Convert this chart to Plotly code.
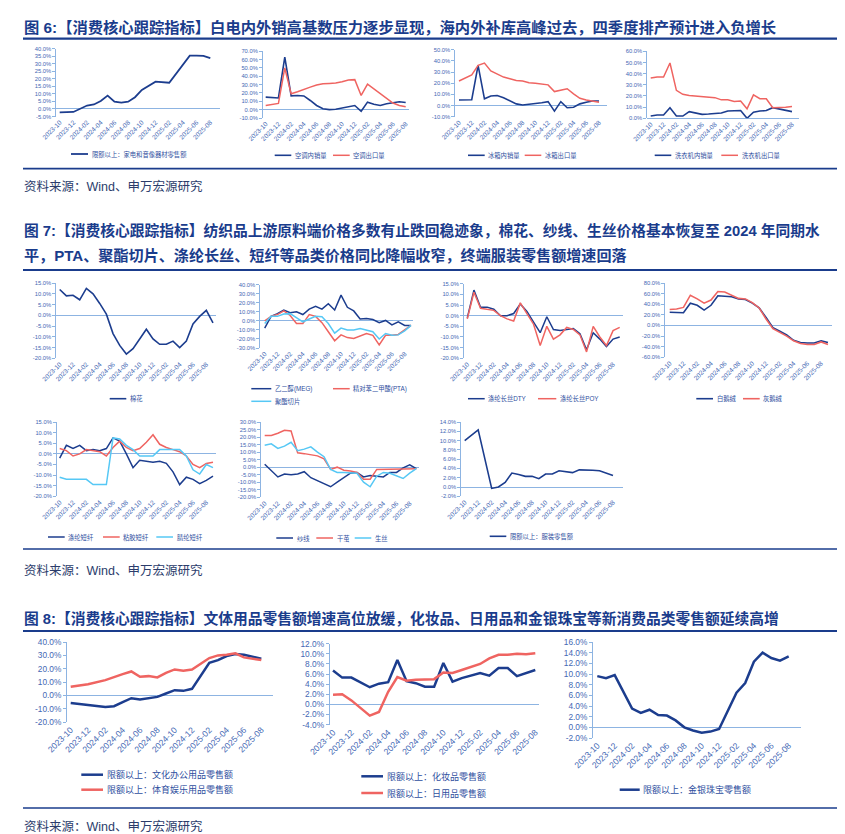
import plotly.graph_objects as go

W, H = 845, 834


def px(x):
    return x / W


def py(y):
    return 1 - y / H


# ---------------- categories ----------------
months23 = ["2023-10", "2023-11", "2023-12", "2024-01", "2024-02", "2024-03", "2024-04",
            "2024-05", "2024-06", "2024-07", "2024-08", "2024-09", "2024-10", "2024-11",
            "2024-12", "2025-01", "2025-02", "2025-03", "2025-04", "2025-05", "2025-06",
            "2025-07", "2025-08"]
months24 = months23 + ["2025-09"]

# ---------------- Fig 6 data (%) ----------------
appliance_retail = [-2.3, -2.1, -2.0, None, 2.3, 3.0, 5.3, 8.9, 4.8, 4.2, 4.8, 7.8, 12.6, 15.2,
                    18.1, None, 17.4, 23.5, 29.5, 35.4, 35.4, 35.2, 33.7]
ac_domestic = [15, 14.5, 14, 63, 16.5, 17, 16.5, 11, 5, 1, 0, 0.5, 2, 4, 5, -2, 9, 6.5, 5, 7,
               8.5, 9.5, 8.5]
ac_export = [5, 6, 7.5, 50, 19, 21.5, 24.5, 27, 29.5, 31, 31.5, 32, 33.5, 35.5, 36, 17, 30.5,
             25, 19, 13, 8, 5, 3.5]
fridge_domestic = [5, 5, 5.2, 36, 6, 8.5, 9, 7, 4, 1.5, 0.5, 1, 2, 2.5, 3.5, -5, 3.5, -2, -1.5,
                   1.5, 3, 4, 4]
fridge_export = [22, 25, 27.5, 36, 38, 31, 28.5, 25.5, 24, 22.5, 22, 20.5, 20, 19, 18.5, 12.5,
                 14, 15, 10.5, 6.5, 5, 4, 3]
washer_domestic = [2, 3, 3, 9.5, 2, 2, 6, 5, 3.5, 3.8, 4.2, 4.7, 6.5, 6.7, 7.0, 0, 5.5, 6.5, 7,
                   9.5, 8.5, 7.5, 6]
washer_export = [36, 37, 37, 49.5, 25, 21.5, 20.5, 20, 19.5, 18.5, 18.5, 16.5, 16.5, 15, 15.5,
                 8.5, 21, 17.5, 17.5, 9.5, 9.5, 10, 10.5]

# ---------------- Fig 7 data (%) ----------------
cotton = [12, 9, 9.3, 7.2, 12.5, 10, 5.5, 0.5, -8.5, -14, -18, -15.5, -11, -6.5, -11, -13.5,
          -13.5, -12, -15, -12, -4, -0.5, 2.3, -3.5]
meg = [-8, 5, 8, 12, 9, 10, 7, 13, 16, 13, 19, 12, 28.5, 15, 11, 2, 2.5, 1.5, -2, 0.5, -4.5, -1,
       -5, -5]
pta = [0, 5, 7, 11, 6, -3, -3, 7, 5, -2, -12, -22, -15.5, -18.5, -19.5, -17, -14, -16, -26.5,
       -16, -16, -15, -10, -5]
polyester_chip = [-3, 5, 5, 7.5, 8, 3, -1, 2, 5, 4.5, -3, -13.5, -8, -10, -10, -8.5, -10, -12,
                  -20, -14, -16, -15.5, -11, -5]
dty = [-1, 12, 4, 4, 3, 0, 0, 1, 5.5, 2, -3, -8, -0.5, -6.5, -7, -6.5, -6, -8.5, -16, -8, -11,
       -14.5, -11, -10]
poy = [-1.5, 11, 3.5, 3, 2.5, 0, -1.5, -2.5, 6, 1, -4, -14, -5, -11, -9, -5.5, -6.5, -9, -17, -5,
       -10, -14, -7, -5.5]
white_down = [25, 25, 24, 42, 38, 29, 38, 56, 55, 54, 50, 49, 42, 33, 15, -4, -11, -18, -28, -32,
              -33, -33, -29, -32]
grey_down = [30, 31, 34, 57, 50, 42, 48, 64, 63, 57, 51, 50, 43, 33, 12, -6, -13, -20, -29, -34,
             -36, -36, -31, -36]
polyester_staple = [-2, 4, 2.5, 4, 1.5, 2, 1.5, 2.5, 7.5, 6, 0, -6.5, -3, -3.5, -4, -3.5, -4.5,
                    -8.5, -14.5, -11, -12, -14, -12.5, -10.5]
viscose_staple = [2.5, 1.5, -1, 0, 2, 1.5, 1, -1, 3, 6, 3, 1.5, 2.5, 5.5, 9, 4.5, 3, 2, 1, -1,
                  -5, -6.5, -4.5, -4]
acrylic_staple = [-11, -12, -12, -12, -12, -14.5, -14.5, -14.5, 7.5, 7, 4, 2, -1, -1, -1, 2, 2,
                  2, 2, -1, -7.5, -9.5, -5, -6.5]
yarn = [2, -2, -6.5, -4.5, -5, -4.5, -3, -7, -9, -10.5, -13, -10, -7, -4, -3.5, -6.5, -5.5, -6,
        -6.5, -3.5, -3.5, -0.5, 1.5, -1]
dry_cocoon = [21, 21, 22.5, 24.5, 24, 9.5, 9, 8.5, 7.5, 5.5, -1.5, 0, -2, -2.5, -3.5, -8, -8,
              -1.5, -1.5, -1.5, -1, -1, -1, -1]
raw_silk = [14.5, 15.5, 12.5, 14, 16.5, 11, 12, 13.5, 10, 7, -1.5, -3.5, -3.5, -3.5, -4, -10, -13,
            -6, -3.5, -4, -5.5, -7.5, -4, -1]
apparel_retail = [10, 11.2, 12.3, None, -0.3, 0, 1, 3, 2.7, 2.3, 2.3, 1.8, 2.8, 2.8, 3.5, None,
                  3.1, 3.7, 3.7, 3.6, 3.5, 3.0, 2.5]

# ---------------- Fig 8 data (%) ----------------
office_retail = [-5.5, -6.5, -7, None, -8.5, -8, -5, -2, -3, -2, -1, 1.5, 4, 3.5, 5, None, 24.5,
                 26.5, 29.5, 31, 30.5, 29, 27.5]
sports_retail = [6.5, 7.5, 8.5, None, 11.5, 14, 16, 18, 14, 14.5, 13.5, 17, 19.5, 18.5, 19.5, None,
                 28, 30, 30.5, 31.5, 28.5, 27.5, 26.5]
cosmetics_retail = [6.7, 5.3, 5.3, None, 3.4, 4.1, 4.4, 8.8, 4.6, 4.2, 3.5, 3.5, 8.2, 4.5, 5.2,
                    None, 6.2, 5.7, 7.2, 7.2, 5.6, 6.2, 6.8]
daily_retail = [1.9, 2.0, 0.8, None, -2.2, -1.5, 2.5, 5.4, 4.7, 4.9, 5.0, 5.0, 6.3, 6.2, 6.8, None,
                8.0, 9.1, 9.8, 9.8, 10.0, 9.9, 10.1]
jewelry_retail = [9.6, 9.2, 9.8, None, 3.5, 2.7, 3.3, 2.3, 2.2, 1.3, 0.0, -0.6, -1.0, -0.8, -0.3,
                  None, 6.5, 8.3, 12.3, 14.0, 13.0, 12.5, 13.3]

# ---------------- text ----------------
title6 = "图 6:【消费核心跟踪指标】白电内外销高基数压力逐步显现，海内外补库高峰过去，四季度排产预计进入负增长"
title7a = "图 7:【消费核心跟踪指标】纺织品上游原料端价格多数有止跌回稳迹象，棉花、纱线、生丝价格基本恢复至 2024 年同期水"
title7b = "平，PTA、聚酯切片、涤纶长丝、短纤等品类价格同比降幅收窄，终端服装零售额增速回落"
title8 = "图 8:【消费核心跟踪指标】文体用品零售额增速高位放缓，化妆品、日用品和金银珠宝等新消费品类零售额延续高增"
source = "资料来源：Wind、申万宏源研究"

# ---------------- styles ----------------
NAVY = "#1C3D8E"
RED = "#EF6461"
CYAN = "#56C8F5"
AXIS = "#8DB4E2"
TICK = "#4468B4"
LEG = "#2E4E9E"
TITLE = "#1A3C8C"
SRC = "#2B3C6B"
FONT = "Liberation Sans, Noto Sans CJK SC, sans-serif"

S6 = dict(yfs=5.8, xfs=6.5, lfs=6.3)
S7 = dict(yfs=5.8, xfs=6.5, lfs=6.3)
S8 = dict(yfs=8.3, xfs=8.6, lfs=9)

panels = [
    dict(box=(48.3, 212, 40.7, 108.5), first=51.7, last=202.3, cats=months23, yr=(-5, 40), dt=5,
         series=[("限额以上：家电和音像器材零售额", appliance_retail, NAVY, 1.8, (63, 80, 146))], **S6),
    dict(box=(255, 401, 43.3, 110), first=257.7, last=397.7, cats=months23, yr=(-10, 70), dt=10,
         series=[("空调内销量", ac_domestic, NAVY, 1.6, (266.7, 283.3, 147.3)),
                 ("空调出口量", ac_export, RED, 1.5, (325, 341.7, 147.3))], **S6),
    dict(box=(447.3, 599, 41.7, 108.7), first=451, last=591, cats=months23, yr=(-10, 50), dt=10,
         series=[("冰箱内销量", fridge_domestic, NAVY, 1.6, (460, 476.7, 147.3)),
                 ("冰箱出口量", fridge_export, RED, 1.5, (516.7, 533.3, 147.3))], **S6),
    dict(box=(639.3, 791, 43.3, 110.3), first=642.7, last=784, cats=months23, yr=(0, 60), dt=10,
         series=[("洗衣机内销量", washer_domestic, NAVY, 1.6, (646.7, 663.3, 147.3)),
                 ("洗衣机出口量", washer_export, RED, 1.5, (713.3, 730, 147.3))], **S6),
    dict(box=(48.3, 208.3, 275, 350.3), first=51.7, last=205, cats=months24, yr=(-20, 15), dt=5,
         series=[("棉花", cotton, NAVY, 1.6, (101.7, 118.3, 390.7))], **S7),
    dict(box=(252.3, 405, 276.7, 340), first=256.7, last=403, cats=months24, yr=(-30, 40), dt=10,
         series=[("乙二醇(MEG)", meg, NAVY, 1.5, (243.3, 263.3, 380.7)),
                 ("精对苯二甲酸(PTA)", pta, RED, 1.5, (325, 341.7, 380.7)),
                 ("聚酯切片", polyester_chip, CYAN, 1.5, (243.3, 263.3, 393.3))], **S7),
    dict(box=(456, 615, 275.7, 350.3), first=459.3, last=611.7, cats=months24, yr=(-20, 15), dt=5,
         series=[("涤纶长丝DTY", dty, NAVY, 1.5, (460, 476.7, 390.7)),
                 ("涤纶长丝POY", poy, RED, 1.5, (530, 548.3, 390.7))], **S7),
    dict(box=(657.3, 824, 275, 349.3), first=661.7, last=820, cats=months24, yr=(-60, 80), dt=20,
         series=[("白鹅绒", white_down, NAVY, 1.6, (688.3, 705, 390.7)),
                 ("灰鹅绒", grey_down, RED, 1.6, (735, 751.7, 390.7))], **S7),
    dict(box=(49, 208.3, 414, 488.3), first=51.7, last=205, cats=months24, yr=(-20, 15), dt=5,
         series=[("涤纶短纤", polyester_staple, NAVY, 1.5, (40, 56.7, 529)),
                 ("粘胶短纤", viscose_staple, RED, 1.5, (95, 111.7, 529)),
                 ("腈纶短纤", acrylic_staple, CYAN, 1.5, (148.3, 165, 529))], **S7),
    dict(box=(253.3, 410.7, 414, 489.3), first=256.7, last=408.3, cats=months24, yr=(-20, 30), dt=5,
         series=[("纱线", yarn, NAVY, 1.5, (268.3, 285, 530)),
                 ("干茧", dry_cocoon, RED, 1.5, (308.3, 325, 530)),
                 ("生丝", raw_silk, CYAN, 1.5, (346.7, 363.3, 530))], **S7),
    dict(box=(453.3, 615, 414, 488.3), first=456.7, last=605, cats=months23, yr=(-2, 14), dt=2,
         series=[("限额以上：服装零售额", apparel_retail, NAVY, 1.6, (481.7, 498.3, 528.3))], **S7),
    dict(box=(59, 265, 634, 714.3), first=62.7, last=253.3, cats=months23, yr=(-20, 40), dt=10,
         series=[("限额以上：文化办公用品零售额", office_retail, NAVY, 2.5, (73.3, 95, 766.7)),
                 ("限额以上：体育娱乐用品零售额", sports_retail, RED, 2.5, (73.3, 95, 781.7))], **S8),
    dict(box=(321.7, 530.7, 635.7, 716.7), first=325, last=527.3, cats=months23, yr=(-4, 12), dt=2,
         series=[("限额以上：化妆品零售额", cosmetics_retail, NAVY, 2.5, (353.3, 375, 768.3)),
                 ("限额以上：日用品零售额", daily_retail, RED, 2.5, (353.3, 375, 785))], **S8),
    dict(box=(585, 793.3, 634, 730), first=589.3, last=780.7, cats=months23, yr=(-2, 16), dt=2,
         series=[("限额以上：金银珠宝零售额", jewelry_retail, NAVY, 2.5, (611.7, 631.7, 781.7))], **S8),
]

fig = go.Figure()
layout = dict(template="none", width=W, height=H, autosize=False,
              margin=dict(l=0, r=0, t=0, b=0, pad=0, autoexpand=False),
              paper_bgcolor="white", plot_bgcolor="rgba(0,0,0,0)", showlegend=False)
shapes = []
annotations = []

for k, p in enumerate(panels, start=1):
    xn = "x" if k == 1 else f"x{k}"
    yn = "y" if k == 1 else f"y{k}"
    xk = "xaxis" if k == 1 else f"xaxis{k}"
    yk = "yaxis" if k == 1 else f"yaxis{k}"
    L, R, T, B = p["box"]
    cats = p["cats"]
    n = len(cats)
    sp = (p["last"] - p["first"]) / (n - 1)
    lo = -(p["first"] - L) / sp
    hi = (n - 1) + (R - p["last"]) / sp
    layout[xk] = dict(domain=[px(L), px(R)], anchor=yn, type="category", range=[lo, hi],
                      categoryorder="array", categoryarray=cats, automargin=False,
                      tickmode="array", tickvals=cats[::2], ticktext=cats[::2], tickangle=-45,
                      tickfont=dict(family=FONT, size=p["xfs"], color=TICK),
                      showline=False, showgrid=False, zeroline=False, ticks="", fixedrange=True)
    ymin, ymax = p["yr"]
    yv = list(range(ymin, ymax + 1, p["dt"]))
    layout[yk] = dict(domain=[py(B), py(T)], anchor=xn, range=[ymin, ymax], automargin=False,
                      tickmode="array", tickvals=yv, ticktext=[f"{v:.1f}%" for v in yv],
                      tickfont=dict(family=FONT, size=p["yfs"], color=TICK),
                      showline=True, linecolor=AXIS, linewidth=1, ticks="outside", ticklen=3,
                      tickcolor=AXIS, tickwidth=1, showgrid=False, zeroline=True,
                      zerolinecolor=AXIS, zerolinewidth=1, fixedrange=True)
    for name, vals, color, w, (lx0, lx1, ly) in p["series"]:
        fig.add_trace(go.Scatter(x=cats, y=vals, xaxis=xn, yaxis=yn, mode="lines", name=name,
                                 connectgaps=True, line=dict(color=color, width=w),
                                 showlegend=False, hoverinfo="skip"))
        shapes.append(dict(type="line", xref="paper", yref="paper", x0=px(lx0), x1=px(lx1),
                           y0=py(ly), y1=py(ly), line=dict(color=color, width=w)))
        annotations.append(dict(xref="paper", yref="paper", x=px(lx1 + 1.5), y=py(ly),
                                xanchor="left", yanchor="middle", text=name, showarrow=False,
                                font=dict(family=FONT, size=p["lfs"], color=LEG)))

# titles
for txt, yy, fs in [(title6, 20, 15.3), (title7a, 222, 14.75), (title7b, 248, 15.1),
                    (title8, 610, 14.75)]:
    annotations.append(dict(xref="paper", yref="paper", x=px(14), y=py(yy), xanchor="left",
                            yanchor="middle", text=f"<b>{txt}</b>", showarrow=False,
                            font=dict(family=FONT, size=fs, color=TITLE)))
# title rules
for yy in [30.7, 262, 623]:
    shapes.append(dict(type="line", xref="paper", yref="paper", x0=px(15), x1=px(830),
                       y0=py(yy), y1=py(yy), line=dict(color=TITLE, width=2.2)))
# source rules + source text
for yy, ys in [(160.7, 178), (541, 562), (800, 818)]:
    shapes.append(dict(type="line", xref="paper", yref="paper", x0=px(15), x1=px(830),
                       y0=py(yy), y1=py(yy), line=dict(color=TITLE, width=1.7)))
    annotations.append(dict(xref="paper", yref="paper", x=px(14), y=py(ys), xanchor="left",
                            yanchor="middle", text=source, showarrow=False,
                            font=dict(family=FONT, size=12.5, color=SRC)))

layout["shapes"] = shapes
layout["annotations"] = annotations
fig.update_layout(**layout)
fig.write_html("out.html")
